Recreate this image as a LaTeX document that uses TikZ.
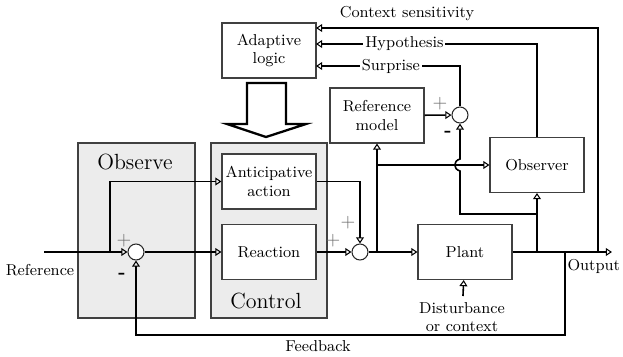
\documentclass[tikz,border=0pt]{standalone}
\usetikzlibrary{arrows.meta, calc}

\begin{document}
\begin{tikzpicture}[x=0.02cm, y=-0.02cm,
  font=\fontsize{9}{10.5}\selectfont,
  block/.style={draw=black!75, line width=0.6pt, fill=white, minimum width=1.88cm,
    minimum height=1.1cm, align=center, inner sep=1pt},
  panel/.style={draw=black!75, line width=0.6pt, fill=gray!15},
  junction/.style={circle, draw=black!85, line width=0.6pt, fill=white,
    minimum size=0.32cm, inner sep=0pt},
  wire/.style={line width=0.9pt},
  signal/.style={wire, -{Triangle[open, length=3.5pt, width=4.5pt, line width=0.6pt]}},
  plus/.style={font=\fontsize{11}{11}\selectfont, text=black!60, inner sep=0pt},
  minus/.style={font=\fontsize{11}{11}\selectfont\bfseries, inner sep=0pt},
]
  \useasboundingbox (0,0) rectangle (623,356);
  \def\mainy{252}

  % Panels for observe and control
  \draw[panel] (78,143) rectangle (195,318);
  \draw[panel] (211,143) rectangle (327,318);
  \node[font=\fontsize{12.5}{13}\selectfont] (observetxt) at (135,162) {Observe};
  \node[font=\fontsize{12.5}{13}\selectfont] (controltxt) at (266,301) {Control};

  % Blocks
  \node[block] (adapt) at (269,50.5) {Adaptive\\logic};
  \node[block] (antic) at (269,181.5) {Anticipative\\action};
  \node[block] (react) at (269,\mainy) {Reaction};
  \node[block] (refmod) at (377,115.5) {Reference\\model};
  \node[block] (observer) at (537,165) {Observer};
  \node[block] (plant) at (465,\mainy) {Plant};

  % Summing junctions
  \node[junction] (sum1) at (136,\mainy) {};
  \node[junction] (sum2) at (360,\mainy) {};
  \node[junction] (sum3) at (460,115) {};

  % Fat arrow from adaptive logic into control
  \draw[line width=1.3pt, fill=white]
    (247,83) -- (286,83) -- (286,124) -- (306,124) -- (266,137) -- (227,124) -- (247,124) -- cycle;

  % Named points on the wires
  \coordinate (refin) at (44,\mainy);
  \coordinate (brref) at (110,\mainy);
  \coordinate (br2) at (377,\mainy);
  \coordinate (br3) at (377,165);
  \coordinate (tap1) at (537,\mainy);
  \coordinate (tap1b) at (537,214);
  \coordinate (hop) at (460,165);
  \coordinate (tap2) at (565,\mainy);
  \coordinate (fb) at (136,335);
  \coordinate (tap3) at (598,\mainy);
  \coordinate (out) at (612,\mainy);
  \coordinate (ctx) at (316,28);
  \coordinate (hyp) at (316,44);
  \coordinate (surp) at (316,66);

  % Forward path
  \draw[signal] (refin) -- (sum1);
  \draw[signal] (brref) |- (antic.west);
  \draw[signal] (sum1) -- (react);
  \draw[signal] (antic.east) -| (sum2);
  \draw[signal] (react) -- (sum2);
  \draw[signal] (sum2) -- (plant);
  \draw[signal] (plant) -- (out);

  % Reference model and observer
  \draw[signal] (br2) -- (refmod);
  \draw[signal] (br3) -- (observer);
  \draw[signal] (refmod) -- (sum3);
  \draw[signal] (tap1) -- (observer);
  \draw[signal] (tap1b) -| ($(hop)+(0,6)$)
    .. controls ($(hop)+(-7,4)$) and ($(hop)+(-7,-4)$) .. ($(hop)+(0,-6)$) -- (sum3);

  % Feedback
  \draw[signal] (tap2) |- (fb) -- (sum1);
  \node (fbtxt) at (318,346) {Feedback};

  % Signals into adaptive logic
  \draw[signal] (tap3) |- (ctx);
  \node[anchor=south] (ctxtxt) at (407,27) {Context sensitivity};
  \draw[signal] (observer) |- (hyp)
    node[pos=0.8, fill=white, inner sep=1pt] (hyptxt) {Hypothesis};
  \draw[signal] (sum3) |- (surp)
    node[pos=0.74, fill=white, inner sep=1pt] (surptxt) {Surprise};

  % Disturbance
  \node[align=center] (dist) at (462,317) {Disturbance\\or context};
  \draw[signal] (dist) -- (plant);

  % Outer labels
  \node (reftxt) at (40,270) {Reference};
  \node[anchor=east, inner sep=1pt] (outtxt) at (622,266) {Output};

  % Signs
  \node[plus] (p1) at (124,241) {+};
  \node[minus] (m1) at (122,276) {-};
  \node[plus] (p2) at (348,223) {+};
  \node[plus] (p3) at (333,241) {+};
  \node[plus] (p4) at (440,104) {+};
  \node[minus] (m4) at (448,134) {-};

\end{tikzpicture}
\end{document}
